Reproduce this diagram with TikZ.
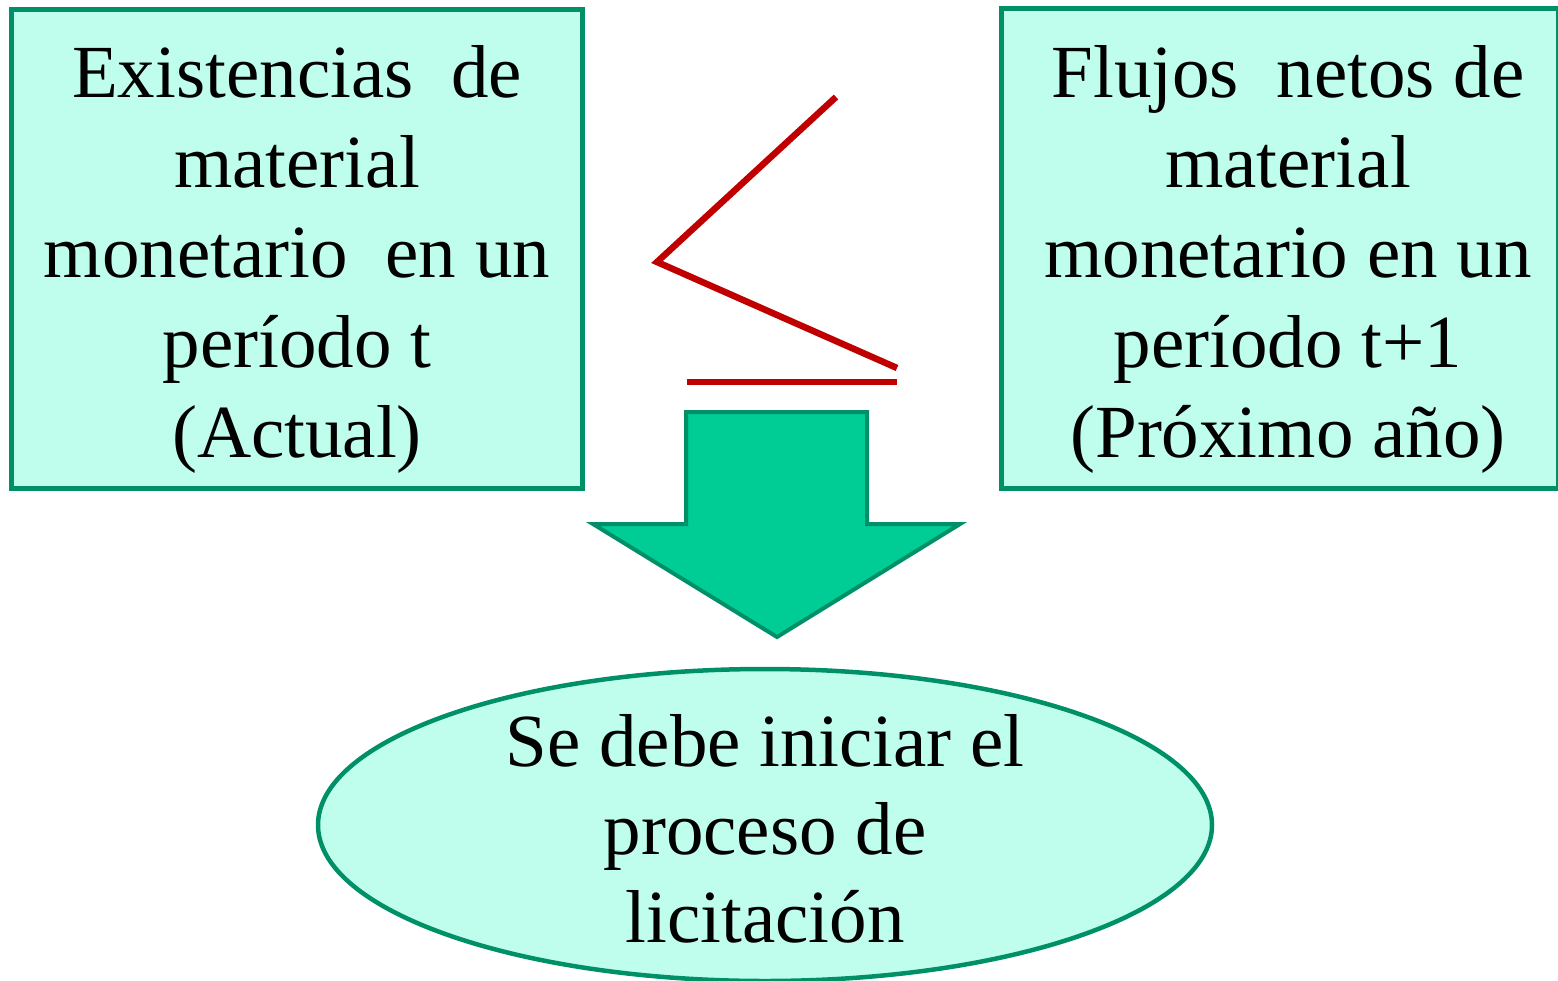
\documentclass[tikz,border=0pt]{standalone}
\usepackage{fontspec}
\setmainfont{Liberation Serif}
\usetikzlibrary{shapes.geometric}
\definecolor{boxfill}{HTML}{BFFEEC}
\definecolor{boxline}{HTML}{009068}
\definecolor{arrowfill}{HTML}{00CC96}
\definecolor{redline}{HTML}{C00000}
\tikzset{
  box/.style={draw=boxline, fill=boxfill, line width=5pt, rectangle, inner sep=0pt},
  oval/.style={draw=boxline, fill=boxfill, line width=4.5pt, ellipse, inner sep=0pt},
  txt/.style={font=\fontsize{75}{90}\selectfont, align=center, inner sep=0pt},
  redl/.style={draw=redline, line width=6.5pt},
  bigarrow/.style={draw=boxline, fill=arrowfill, line width=4pt, line join=miter}
}
\begin{document}
\begin{tikzpicture}[x=1pt,y=-1pt]
\useasboundingbox (0,0) rectangle (1558,980);
% left box
\node[box, minimum width=571pt, minimum height=479pt] (L) at (296.5,248.5) {};
\node[txt] (Lt) at (297,259)
  {Existencias\ \ de\\material\\monetario\ \ en un\\período t\\(Actual)};
% right box
\node[box, minimum width=557pt, minimum height=480pt] (R) at (1280,248) {};
\node[txt] (Rt) at (1288,259)
  {Flujos\ \ netos de\\material\\monetario en un\\período t+1\\(Próximo año)};
% red symbol
\coordinate (r1) at (836,97);
\coordinate (r2) at (657,262);
\coordinate (r3) at (897,368);
\coordinate (r4) at (687,382);
\coordinate (r5) at (897,382);
\draw[redl] (r1) -- (r2) -- (r3);
\draw[redl] (r4) -- (r5);
% arrow
\coordinate (a1) at (686,412);
\coordinate (a2) at (867,412);
\coordinate (a3) at (867,524);
\coordinate (a4) at (960,524);
\coordinate (tip) at (777,637);
\coordinate (a6) at (593,524);
\coordinate (a7) at (686,524);
\draw[bigarrow] (a1) -- (a2) -- (a3) -- (a4) -- (tip) -- (a6) -- (a7) -- cycle;
% ellipse
\node[oval, minimum width=894pt, minimum height=312pt] (E) at (765,825) {};
\node[txt, font=\fontsize{75}{88}\selectfont] (Et) at (765,829)
  {Se debe iniciar el\\proceso de\\licitación};
\end{tikzpicture}
\end{document}
